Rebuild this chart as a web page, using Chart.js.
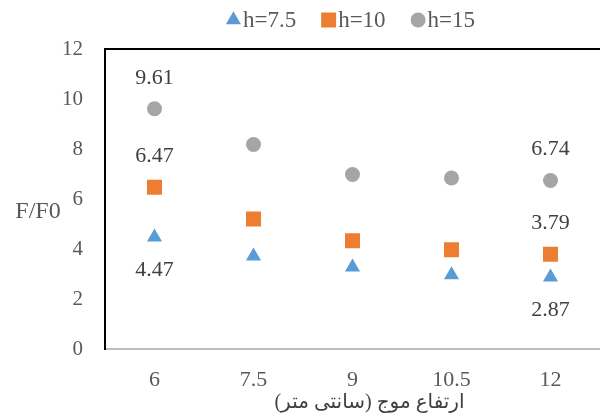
<!DOCTYPE html>
<html>
<head>
<meta charset="utf-8">
<script src="https://cdn.jsdelivr.net/npm/chart.js@4/dist/chart.umd.min.js"></script>
<style>
  html, body { margin: 0; padding: 0; background: #fff; overflow: hidden; }
  #wrap { width: 600px; height: 414px; }
</style>
</head>
<body>
<div id="wrap"><canvas id="myChart" width="600" height="414"></canvas></div>
<script>
let waveHeights = ['6', '7.5', '9', '10.5', '12'];
let h75 = [4.47, 3.71, 3.27, 2.96, 2.87];
let h10 = [6.47, 5.2, 4.33, 3.97, 3.79];
let h15 = [9.61, 8.18, 6.98, 6.84, 6.74];
let labeledPoints = [0, 4];
let yTicks = [0, 2, 4, 6, 8, 10, 12];
let xTitle = 'ارتفاع موج (سانتی متر)';
let yTitle = 'F/F0';

let serif = "'Liberation Serif', 'DejaVu Sans', serif";
let ctx = document.getElementById("myChart").getContext('2d');

// legend drawn by hand so the marker sits right against the text
const legendPlugin = {
    id: 'legendRow',
    afterDraw(chart) {
        let c = chart.ctx;
        let area = chart.chartArea;
        c.save();
        c.font = '23px ' + serif;
        c.textBaseline = 'middle';
        let items = chart.data.datasets.map(ds => ({ ds: ds, w: 15 + 2 + c.measureText(ds.label).width }));
        let gap = 25;
        let total = items.reduce((s, it) => s + it.w, 0) + gap * (items.length - 1);
        let x = (area.left + area.right) / 2 - total / 2 - 2;
        let y = 20;
        items.forEach(it => {
            c.fillStyle = it.ds.backgroundColor;
            Chart.helpers.drawPoint(c, { pointStyle: it.ds.pointStyle, radius: it.ds.pointRadius, rotation: 0, borderWidth: 0 }, x + 7.5, y);
            c.fillStyle = '#595959';
            c.textAlign = 'left';
            c.fillText(it.ds.label, x + 17, y + 1);
            x += it.w + gap;
        });
        c.restore();
    }
};

const extrasPlugin = {
    id: 'extras',
    afterDatasetsDraw(chart) {
        let c = chart.ctx;
        let area = chart.chartArea;
        c.save();
        // top border of plot area
        c.strokeStyle = '#000';
        c.lineWidth = 2;
        c.beginPath();
        c.moveTo(area.left, area.top);
        c.lineTo(area.right, area.top);
        c.stroke();

        // value labels
        c.font = '22px ' + serif;
        c.fillStyle = '#404040';
        c.textAlign = 'center';
        c.textBaseline = 'middle';
        chart.data.datasets.forEach((ds, i) => {
            let meta = chart.getDatasetMeta(i);
            labeledPoints.forEach(idx => {
                let pt = meta.data[idx];
                let dy = ds.labelBelow ? 33 : -31;
                c.fillText(ds.data[idx].toFixed(2), pt.x, pt.y + dy);
            });
        });

        // horizontal y axis title
        c.font = '24px ' + serif;
        c.fillStyle = '#595959';
        c.fillText(yTitle, area.left - 67, (area.top + area.bottom) / 2 + 13);

        // x axis title, sits a little right of the axis centre as in the original
        c.font = '20px ' + serif;
        c.fillStyle = '#404040';
        c.fillText(xTitle, (area.left + area.right) / 2 + 17, 403);
        c.restore();
    }
};

let myChart = new Chart(ctx, {
    type: 'line',
    data: {
        labels: waveHeights,
        datasets: [
            {
                label: 'h=7.5',
                data: h75,
                showLine: false,
                pointStyle: 'triangle',
                pointRadius: 8.7,
                backgroundColor: '#5B9BD5',
                borderColor: '#5B9BD5',
                pointBorderWidth: 0,
                labelBelow: true
            },
            {
                label: 'h=10',
                data: h10,
                showLine: false,
                pointStyle: 'rect',
                pointRadius: 10.6,
                backgroundColor: '#ED7D31',
                borderColor: '#ED7D31',
                pointBorderWidth: 0
            },
            {
                label: 'h=15',
                data: h15,
                showLine: false,
                pointStyle: 'circle',
                pointRadius: 7.5,
                backgroundColor: '#A5A5A5',
                borderColor: '#A5A5A5',
                pointBorderWidth: 0
            }
        ]
    },
    options: {
        responsive: false,
        maintainAspectRatio: false,
        animation: false,
        events: [],
        layout: {
            autoPadding: false,
            padding: { top: 49, left: 0, right: 0, bottom: 0 }
        },
        plugins: {
            legend: { display: false },
            tooltip: { enabled: false }
        },
        scales: {
            x: {
                type: 'category',
                offset: true,
                grid: { display: false, drawTicks: false },
                border: { display: true, color: '#BFBFBF', width: 2 },
                ticks: {
                    color: '#595959',
                    font: { family: serif, size: 22 },
                    padding: 18,
                    maxRotation: 0
                },
                afterFit(scale) {
                    scale.height = 65;
                    scale.paddingLeft = 0;
                    scale.paddingRight = 0;
                }
            },
            y: {
                min: 0,
                max: 12,
                afterBuildTicks(scale) {
                    scale.ticks = yTicks.map(v => ({ value: v }));
                },
                grid: { display: false, drawTicks: false },
                border: { display: true, color: '#000', width: 2 },
                ticks: {
                    color: '#595959',
                    font: { family: serif, size: 21 },
                    padding: 22
                },
                afterFit(scale) {
                    scale.width = 105;
                }
            }
        }
    },
    plugins: [legendPlugin, extrasPlugin]
});
</script>
</body>
</html>
